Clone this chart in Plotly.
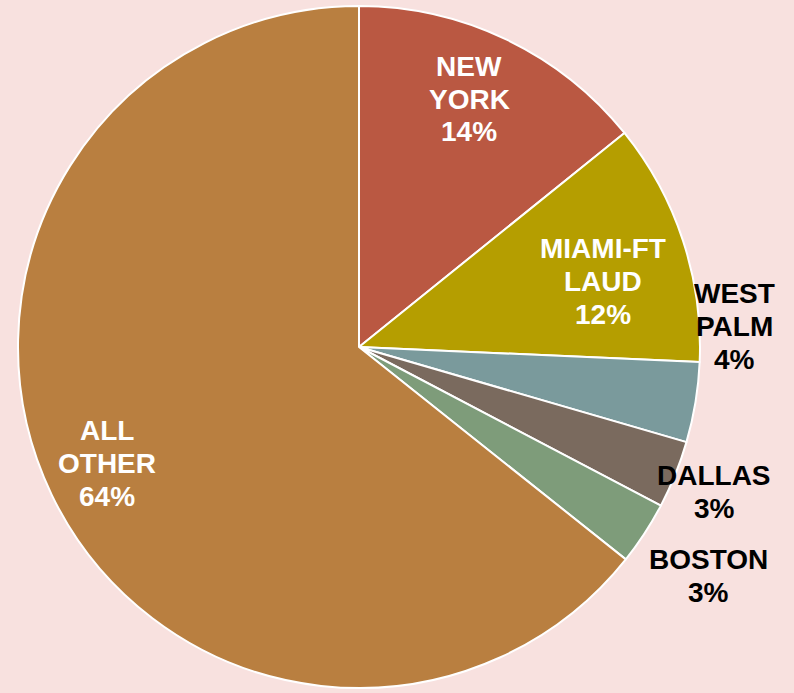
import plotly.graph_objects as go

labels = ["NEW<br>YORK", "MIAMI-FT<br>LAUD", "WEST<br>PALM", "DALLAS", "BOSTON", "ALL<br>OTHER"]
shares = [14.2, 11.5, 3.8, 3.2, 3.0, 64.3]
colors = ["#BA5842", "#B59E00", "#7A9A9C", "#7A6A5E", "#7E9C7A", "#B97F40"]

# label placement (pixel centres) and colour per slice
label_xy = [(469, 99), (603, 281), (734, 326), (714, 492), (708, 576), (107, 463)]
label_colors = ["white", "white", "black", "black", "black", "white"]
line_gap = 33

W, H = 794, 693
L, R, T, B = 18, 94, 6, 5
pw, ph = W - L - R, H - T - B

fig = go.Figure(
    go.Pie(
        labels=labels,
        values=shares,
        sort=False,
        direction="clockwise",
        rotation=0,
        marker=dict(colors=colors, line=dict(color="white", width=2)),
        textinfo="none",
        hoverinfo="label+percent",
        showlegend=False,
    )
)

total = sum(shares)
for lab, val, (px, py), col in zip(labels, shares, label_xy, label_colors):
    lines = lab.split("<br>") + [f"{round(val / total * 100)}%"]
    top = py - line_gap * (len(lines) - 1) / 2
    for i, line in enumerate(lines):
        fig.add_annotation(
            x=(px - L) / pw,
            y=(H - B - (top + i * line_gap)) / ph,
            xref="paper",
            yref="paper",
            text=f"<b>{line}</b>",
            showarrow=False,
            xanchor="center",
            yanchor="middle",
            font=dict(family="Liberation Sans, Arial", size=28, color=col),
        )

fig.update_layout(
    width=W,
    height=H,
    paper_bgcolor="#F8E1DF",
    plot_bgcolor="#F8E1DF",
    margin=dict(l=L, r=R, t=T, b=B),
    font=dict(family="Liberation Sans, Arial", size=28),
)

fig.write_html(
    "out.html",
    config={"displayModeBar": False},
    post_script="document.body.style.margin='0';",
)
